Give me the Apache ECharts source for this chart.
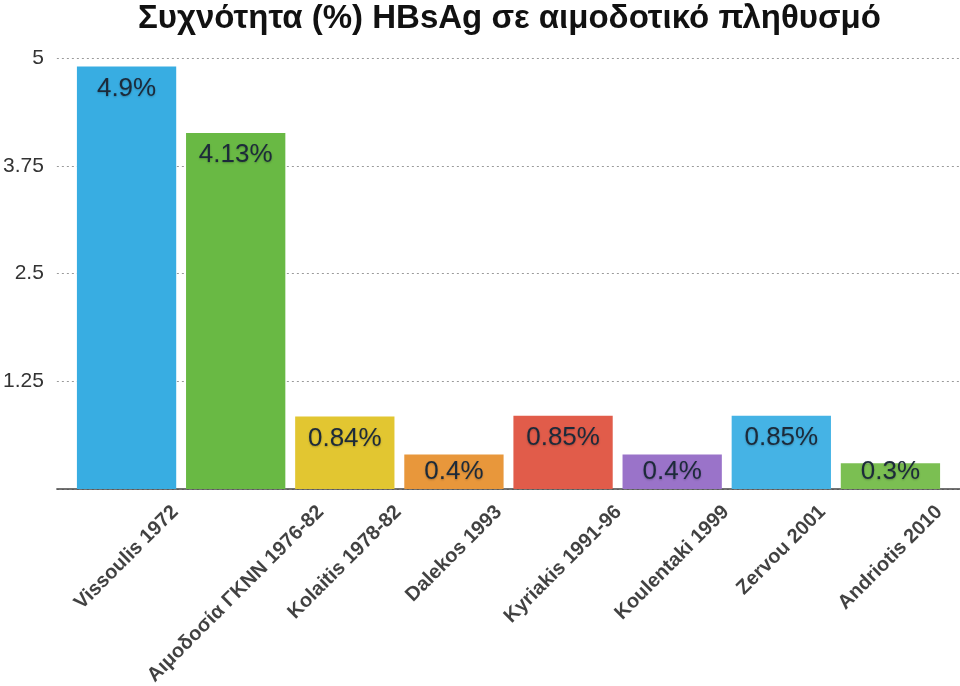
<!DOCTYPE html>
<html><head><meta charset="utf-8">
<script src="https://cdn.jsdelivr.net/npm/echarts@6/dist/echarts.min.js"></script>
<style>html,body{margin:0;padding:0;background:#fff}#c{width:960px;height:686px}</style>
</head><body><div id="c"></div>
<script>
const titleText = 'Συχνότητα (%) HBsAg σε αιμοδοτικό πληθυσμό';
const categories = ['Vissoulis 1972', 'Αιμοδοσία ΓΚΝΝ 1976-82', 'Kolaitis 1978-82', 'Dalekos 1993', 'Kyriakis 1991-96', 'Koulentaki 1999', 'Zervou 2001', 'Andriotis 2010'];
const values = [4.9, 4.13, 0.84, 0.4, 0.85, 0.4, 0.85, 0.3];
const valueLabels = ['4.9%', '4.13%', '0.84%', '0.4%', '0.85%', '0.4%', '0.85%', '0.3%'];
const barColors = ['#38ade2', '#69b944', '#e2c631', '#e8973b', '#e15c4a', '#9a73c9', '#45b3e5', '#7bbf52'];
const yTicks = [0, 1.25, 2.5, 3.75, 5];

const font = '"Liberation Sans", Arial, sans-serif';
const catFontSize = 20;
const ctx = document.createElement('canvas').getContext('2d');
ctx.font = 'bold ' + catFontSize + 'px ' + font;
const rad = Math.PI / 4;
// rotated labels are centred on their category, with their top a fixed gap below the axis
const labelDrop = categories.map(c => {
  const L = ctx.measureText(c).width;
  return 15 + (L + 14) * Math.sin(rad) / 2;
});

const chart = echarts.init(document.getElementById('c'), null, {renderer: 'canvas'});
chart.setOption({
  animation: false,
  backgroundColor: '#ffffff',
  title: {
    text: titleText, left: 133, top: -3,
    textStyle: {fontFamily: font, fontWeight: 'bold', fontSize: 33, color: '#111'}
  },
  grid: [
    {left: 55, right: 0, top: 58, bottom: 197},
    {left: 72, right: 15, top: 58, bottom: 197}
  ],
  xAxis: [
    {gridIndex: 0, type: 'category', data: categories, axisLine: {show: true, lineStyle: {color: '#444', width: 1.5}}, axisTick: {show: false}, axisLabel: {show: false}},
    {gridIndex: 1, type: 'category', data: categories, axisLine: {show: false}, axisTick: {show: false}, axisLabel: {show: false}}
  ],
  yAxis: [
    {gridIndex: 0, type: 'value', min: yTicks[0], max: yTicks[yTicks.length - 1], interval: yTicks[1] - yTicks[0],
     axisLine: {show: false}, axisTick: {show: false},
     splitLine: {show: true, lineStyle: {type: [2, 3], color: '#9a9a9a', width: 1}},
     axisLabel: {margin: 13, fontFamily: font, fontSize: 21, color: '#333',
       formatter: v => (v === 0 ? '' : String(v))}},
    {gridIndex: 1, type: 'value', min: 0, max: 5, interval: 1.25, show: false, splitLine: {show: false}}
  ],
  series: [{
    type: 'bar', xAxisIndex: 1, yAxisIndex: 1, barWidth: '91%',
    data: values.map((v, i) => ({
      value: v, itemStyle: {color: barColors[i]},
      label: v < 0.5 ? {position: 'insideBottom', distance: 4} : {position: 'insideTop', distance: 9}
    })),
    label: {
      show: true,
      formatter: p => valueLabels[p.dataIndex],
      fontFamily: font, fontSize: 26, color: '#1c2a3a',
      textShadowColor: 'rgba(0,0,0,0.25)', textShadowBlur: 2, textShadowOffsetY: 1
    }
  }, {
    type: 'scatter', xAxisIndex: 1, yAxisIndex: 1, symbolSize: 1, silent: true,
    itemStyle: {color: 'rgba(0,0,0,0)'},
    data: categories.map((c, i) => ({value: [i, 0], label: {position: [0.5, 0.5 + labelDrop[i]]}})),
    label: {
      show: true, rotate: 45, align: 'center', verticalAlign: 'middle',
      formatter: p => categories[p.dataIndex],
      fontFamily: font, fontWeight: 'bold', fontSize: catFontSize, color: '#111'
    }
  }]
});
</script></body></html>
